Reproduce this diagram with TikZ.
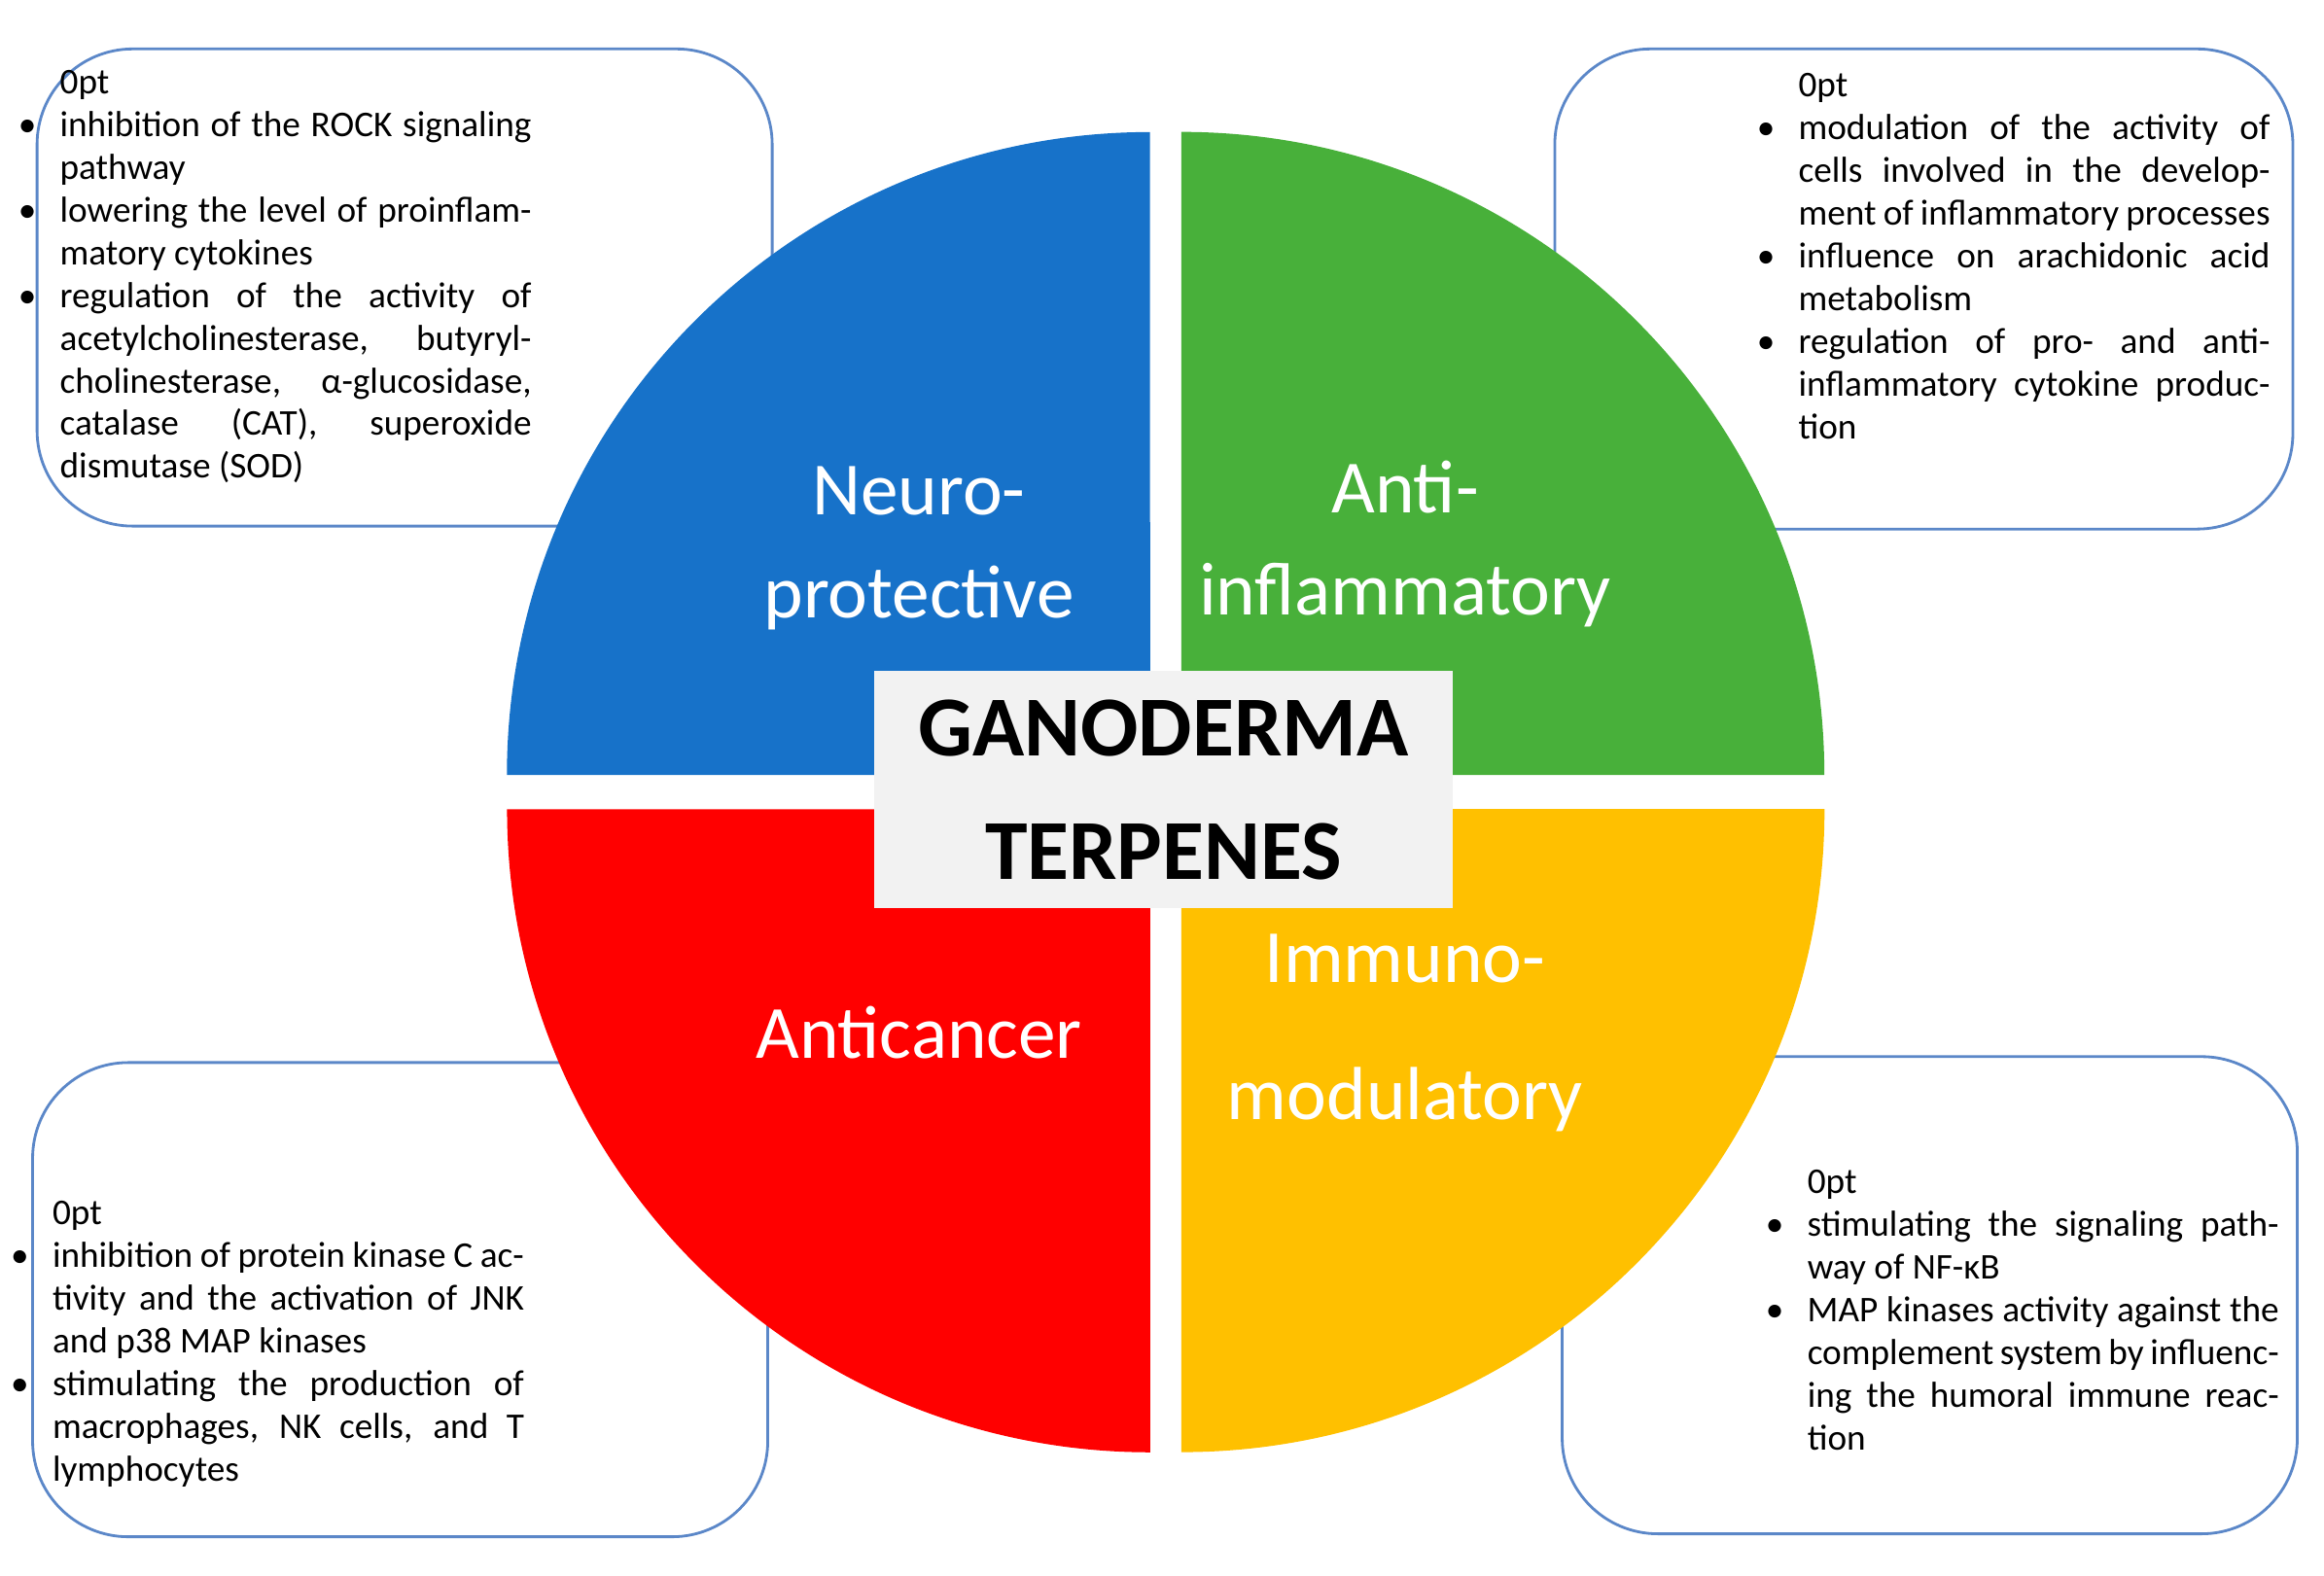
\documentclass[tikz,border=0pt]{standalone}
\usepackage{fontspec}
\setmainfont{Carlito}
\definecolor{qblue}{RGB}{23,114,201}
\definecolor{qgreen}{RGB}{72,176,58}
\definecolor{qred}{RGB}{255,0,0}
\definecolor{qyellow}{RGB}{255,192,0}
\definecolor{frameblue}{RGB}{91,135,200}
\definecolor{boxgray}{RGB}{242,242,242}
\newcommand{\itm}[1]{\par\noindent\hskip-1.15em\makebox[1.15em][l]{\textbullet}#1}
\tikzset{
  panel/.style={draw=frameblue, line width=0.8pt, rounded corners=28pt},
  list/.style={text width=4.85cm, align=justify, inner sep=0pt,
    font=\fontsize{10.6}{12.5}\selectfont\hyphenpenalty=10000\exhyphenpenalty=10000\leftskip=1.15em},
  quad/.style={text=white, align=center, font=\fontsize{22}{30}\selectfont}
}
\begin{document}
\begin{tikzpicture}[x=0.01524cm, y=-0.01524cm]
\useasboundingbox (0,0) rectangle (1568,1063);
% frames behind the disc
\draw[panel] (25,33) rectangle (521,355);
\draw[panel] (1049,33) rectangle (1547,357);
\draw[panel] (22,717) rectangle (518,1037);
\draw[panel] (1054,713) rectangle (1550,1035);
% quarters
\fill[qblue] (776,523) -- (342,523) arc[start angle=180, end angle=90, radius=6.614cm] -- cycle;
\fill[qgreen] (797,523) -- (797,89) arc[start angle=90, end angle=0, radius=6.614cm] -- cycle;
\fill[qred] (776,546) -- (776,980) arc[start angle=270, end angle=180, radius=6.614cm] -- cycle;
\fill[qyellow] (797,546) -- (1231,546) arc[start angle=0, end angle=-90, radius=6.614cm] -- cycle;
\node[quad] (neuro) at (620,370) {Neuro-\\protective};
\node[quad] (anti) at (948,367) {Anti-\\inflammatory};
\node[quad] (cancer) at (620,697) {Anticancer};
\node[quad, font=\fontsize{22}{40}\selectfont] (immuno) at (948,697) {Immuno-\\modulatory};
\node[fill=boxgray, minimum width=390*0.01524cm, minimum height=160*0.01524cm, align=center,
  font=\fontsize{25}{36}\selectfont\bfseries] (center) at (785,533) {GANODERMA\\TERPENES};
% lists
\node[list, anchor=north west] (neurotxt) at (40,47) {%
\itm{inhibition of the ROCK signaling pathway}
\itm{lowering the level of proinflammatory cytokines}
\itm{regulation of the activity of acetylcholinesterase, butyrylcholinesterase, α-glucosidase, catalase (CAT), superoxide dismutase (SOD)}};
\node[list, anchor=north west] (antitxt) at (1213,49) {%
\itm{modulation of the activity of cells involved in the development of inflammatory processes}
\itm{influence on arachidonic acid metabolism}
\itm{regulation of pro- and anti-inflammatory cytokine production}};
\node[list, anchor=north west] (cancertxt) at (35,810) {%
\itm{inhibition of protein kinase C activity and the activation of JNK and p38 MAP kinases}
\itm{stimulating the production of macrophages, NK cells, and T lymphocytes}};
\node[list, anchor=north west] (immunotxt) at (1219,789) {%
\itm{stimulating the signaling pathway of NF-κB}
\itm{MAP kinases activity against the complement system by influencing the humoral immune reaction}};
\end{tikzpicture}
\end{document}
